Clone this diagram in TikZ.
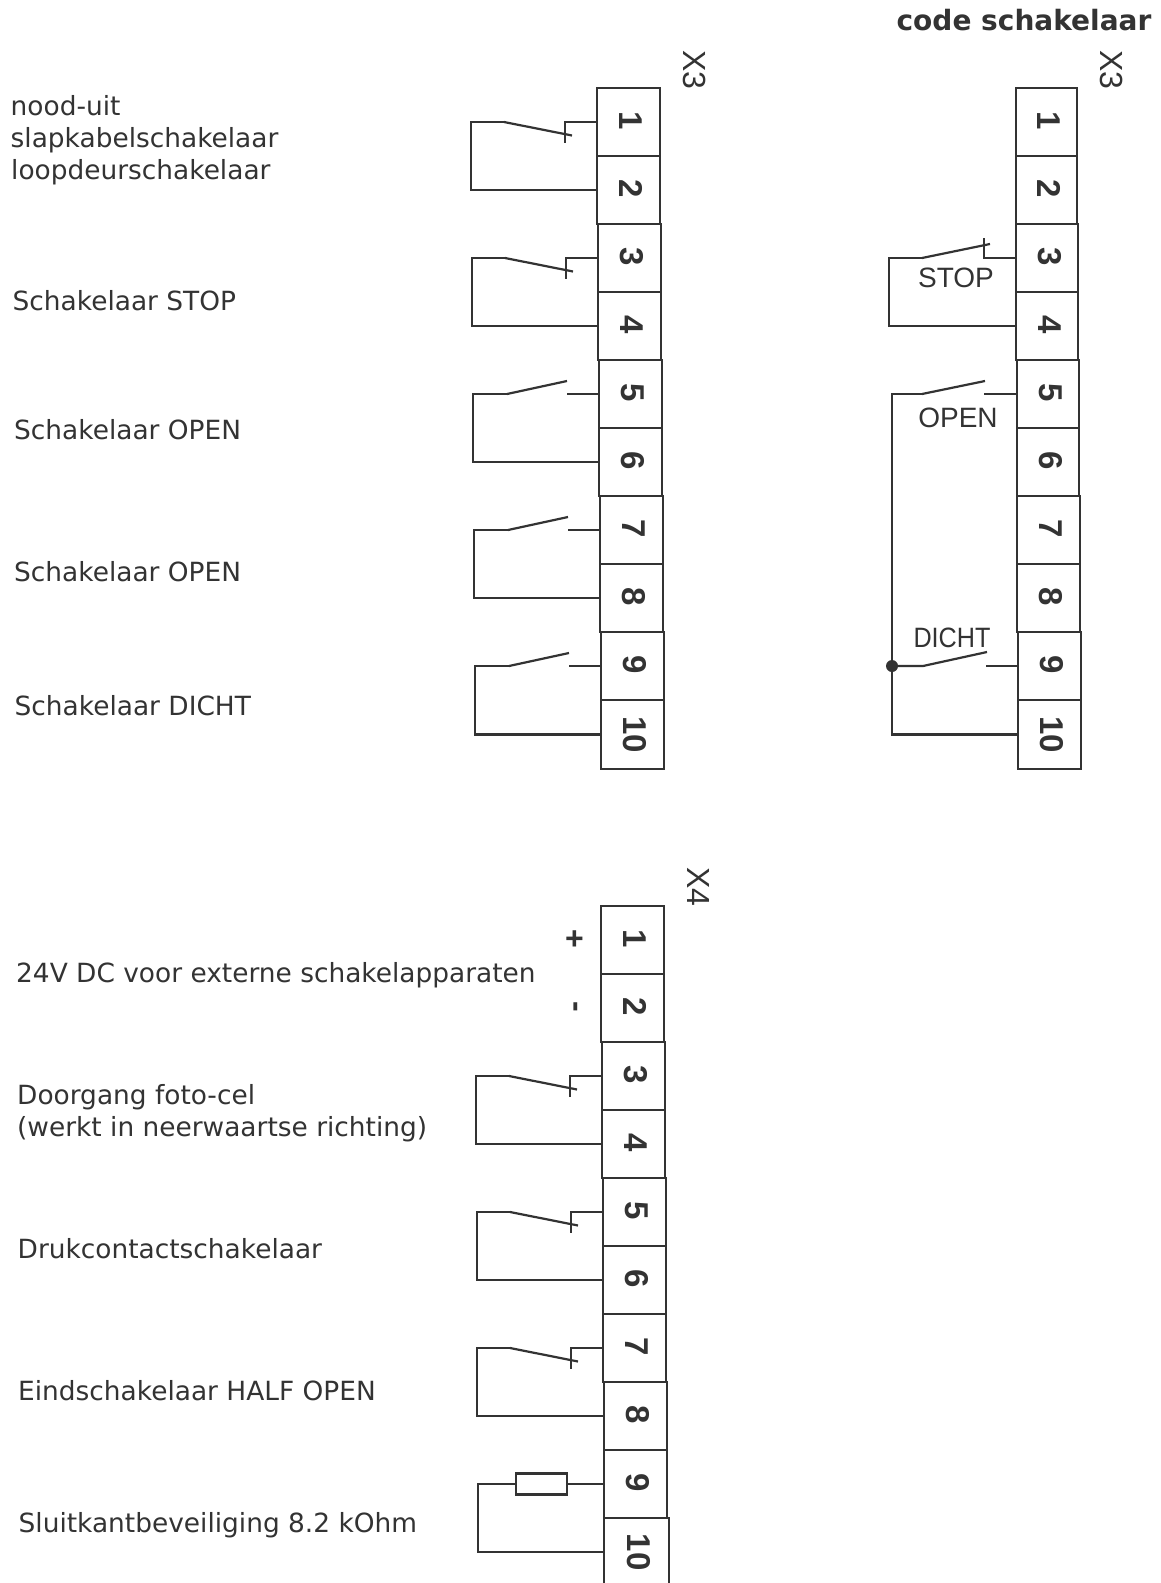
\documentclass[tikz,border=0pt]{standalone}
\usepackage{graphicx}
\usepackage{fontspec}
\setmainfont{DejaVu Sans}
\newfontfamily\arialfont{Liberation Sans}
\usetikzlibrary{calc}
\definecolor{ink}{HTML}{333333}
\tikzset{
  cell/.style={draw=ink,line width=2pt,inner sep=0pt,text=ink,font=\arialfont\bfseries\fontsize{33}{33}\selectfont},
  wire/.style={draw=ink,line width=2.2pt},
  lab/.style={anchor=base west,inner sep=0pt,text=ink,font=\fontsize{26.4}{26.4}\selectfont},
  swlab/.style={inner sep=0pt,text=ink,font=\arialfont\fontsize{28}{28}\selectfont},
  stripname/.style={inner sep=0pt,text=ink,font=\arialfont\fontsize{32}{32}\selectfont},
  titlelab/.style={inner sep=0pt,text=ink,font=\bfseries\fontsize{28}{28}\selectfont},
  sign/.style={inner sep=0pt,text=ink,font=\arialfont\bfseries\fontsize{32}{32}\selectfont},
  res/.style={draw=ink,line width=2.2pt,inner sep=0pt,minimum width=51pt,minimum height=21pt},
  dot/.style={circle,fill=ink,inner sep=0pt,minimum size=12pt}
}
\newcommand{\rotd}[1]{\rotatebox[origin=c]{-90}{#1}}
\newcommand{\rotc}[1]{\hspace{5pt}\rotatebox[origin=c]{-90}{#1}}
% normally closed contact between two cells
\newcommand{\ncsw}[2]{%
  \draw[wire] (#1.west) -- ($(#1.west)+(-31,0)$) -- ($(#1.west)+(-31,21)$);
  \draw[wire] ($(#1.west)+(-92,0)$) -- ($(#1.west)+(-24,13.5)$);
  \draw[wire] (#2.west) -| ($(#1.west)+(-125,0)$) -- ($(#1.west)+(-92,0)$);
}
% normally open contact between two cells
\newcommand{\nosw}[2]{%
  \draw[wire] (#1.west) -- ($(#1.west)+(-31,0)$);
  \draw[wire] ($(#1.west)+(-91,0)$) -- ($(#1.west)+(-31,-13)$);
  \draw[wire] (#2.west) -| ($(#1.west)+(-125,0)$) -- ($(#1.west)+(-91,0)$);
}
\begin{document}
\begin{tikzpicture}[x=1pt,y=-1pt]
\useasboundingbox (0,0) rectangle (1161,1583);
\fill[white] (0,0) rectangle (1161,1583);
\coordinate (pb) at (0,1583);
% strip A
\foreach \n/\t/\b/\xl/\xr in {1/88/156/597/660,2/156/224/597/660,3/224/292/598/661,4/292/360/598/661,5/360/428/599/662,6/428/496/599/662,7/496/564/600/663,8/564/632/600/663,9/632/700/601/664,10/700/769/601/664}{
  \pgfmathsetmacro{\w}{\xr-\xl}\pgfmathsetmacro{\h}{\b-\t}
  \node[cell,minimum width=\w pt,minimum height=\h pt] (a\n) at ({(\xl+\xr)/2},{(\t+\b)/2}) {\rotc{\n}};
}
% strip B
\foreach \n/\t/\b/\xl/\xr in {1/88/156/1016/1077,2/156/224/1016/1077,3/224/292/1016/1078,4/292/360/1016/1078,5/360/428/1017/1079,6/428/496/1017/1079,7/496/564/1017/1080,8/564/632/1017/1080,9/632/700/1018/1081,10/700/769/1018/1081}{
  \pgfmathsetmacro{\w}{\xr-\xl}\pgfmathsetmacro{\h}{\b-\t}
  \node[cell,minimum width=\w pt,minimum height=\h pt] (b\n) at ({(\xl+\xr)/2},{(\t+\b)/2}) {\rotc{\n}};
}
% strip C
\foreach \n/\t/\b/\xl/\xr in {1/906/974/601/664,2/974/1042/601/664,3/1042/1110/602/665,4/1110/1178/602/665,5/1178/1246/603/666,6/1246/1314/603/666,7/1314/1382/603/666,8/1382/1450/604/667,9/1450/1518/604/667}{
  \pgfmathsetmacro{\w}{\xr-\xl}\pgfmathsetmacro{\h}{\b-\t}
  \node[cell,minimum width=\w pt,minimum height=\h pt] (c\n) at ({(\xl+\xr)/2},{(\t+\b)/2}) {\rotc{\n}};
}
\node[cell,draw=none,minimum width=63pt,minimum height=68pt] (c10) at (636,1552) {\rotc{10}};
\draw[cell] (c10.north west) -- (c10.north west |- pb);
\draw[cell] (c10.north east) -- (c10.north east |- pb);
% strip names and title
\node[stripname] (xa) at (695,70) {\rotd{X3}};
\node[stripname] (xb) at (1112,70) {\rotd{X3}};
\node[stripname] (xc) at (699,887) {\rotd{X4}};
\node[titlelab] (title) at (1024,20) {code schakelaar};
% contacts strip A
\ncsw{a1}{a2}
\ncsw{a3}{a4}
\nosw{a5}{a6}
\nosw{a7}{a8}
\nosw{a9}{a10}
% contacts strip C
\ncsw{c3}{c4}
\ncsw{c5}{c6}
\ncsw{c7}{c8}
\node[res] (r) at (541.5,1484) {};
\draw[wire] (c9.west) -- (r.east);
\draw[wire] (c10.west) -| ($(c9.west)+(-125,0)$) -- (r.west);
% strip B wiring
\draw[wire] (b3.west) -- ($(b3.west)+(-31,0)$) -- ($(b3.west)+(-31,-20)$);
\draw[wire] ($(b3.west)+(-93,0)$) -- ($(b3.west)+(-25,-14)$);
\draw[wire] (b4.west) -| ($(b3.west)+(-126,0)$) -- ($(b3.west)+(-93,0)$);
\node[swlab] (lstop) at (956,278) {STOP};
\coordinate (jn) at (892,666);
\draw[wire] (b5.west) -- ($(b5.west)+(-32,0)$);
\draw[wire] ($(b5.west)+(-94,0)$) -- ($(b5.west)+(-31,-13)$);
\draw[wire] (jn) |- ($(b5.west)+(-94,0)$);
\node[swlab] (lopen) at (958,418) {OPEN};
\draw[wire] (b9.west) -- ($(b9.west)+(-31,0)$);
\draw[wire] (jn) -- ($(jn)+(31,0)$) -- ($(jn)+(95,-14)$);
\draw[wire] (jn) |- (b10.west);
\node[dot] (jd) at (jn) {};
\node[swlab] (ldicht) at (952,638) {\scalebox{0.9}[1]{DICHT}};
% signs
\node[sign] (plus) at (574.5,940) {+};
\node[sign] (minus) at (572.5,1007) {\rotd{-}};
% labels
\node[lab] (l1) at (10.5,115) {nood-uit};
\node[lab] (l2) at (10.5,147) {slapkabelschakelaar};
\node[lab] (l3) at (11,179) {loopdeurschakelaar};
\node[lab] (l4) at (12.5,310) {Schakelaar STOP};
\node[lab] (l5) at (14,439) {Schakelaar OPEN};
\node[lab] (l6) at (14,581) {Schakelaar OPEN};
\node[lab] (l7) at (14.5,715) {Schakelaar DICHT};
\node[lab] (l8) at (16,982) {24V DC voor externe schakelapparaten};
\node[lab] (l9) at (17,1104) {Doorgang foto-cel};
\node[lab] (l10) at (17,1136) {(werkt in neerwaartse richting)};
\node[lab] (l11) at (17.5,1258) {Drukcontactschakelaar};
\node[lab] (l12) at (18,1400) {Eindschakelaar HALF OPEN};
\node[lab] (l13) at (18.5,1532) {Sluitkantbeveiliging 8.2 kOhm};
\end{tikzpicture}
\end{document}
